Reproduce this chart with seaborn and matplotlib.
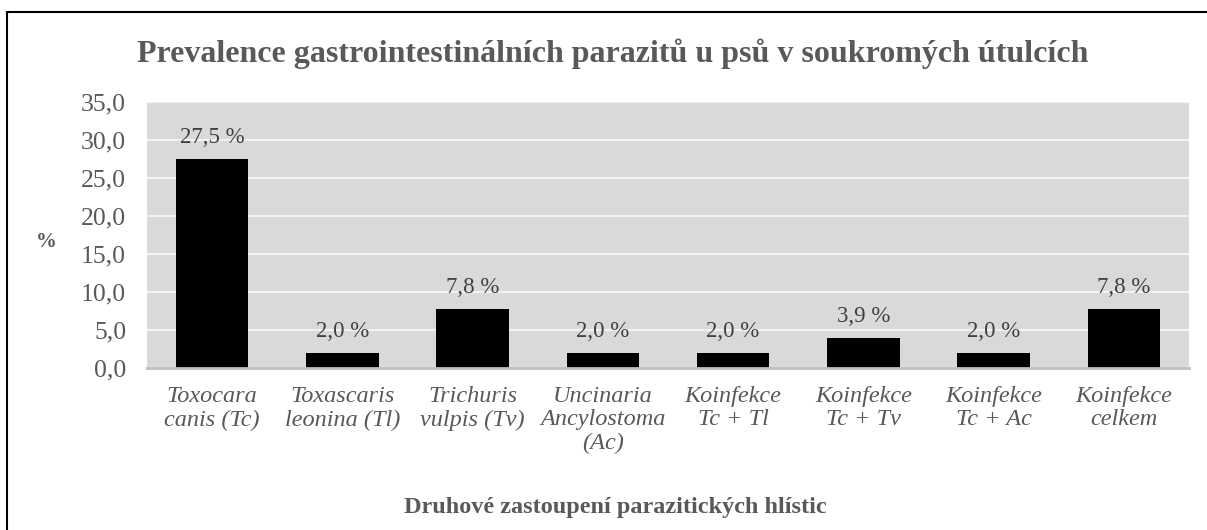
import matplotlib
matplotlib.use("Agg")
import matplotlib.pyplot as plt
from matplotlib.patches import Rectangle
import seaborn as sns
import pandas as pd

categories = [
    "Toxocara\ncanis (Tc)",
    "Toxascaris\nleonina (Tl)",
    "Trichuris\nvulpis (Tv)",
    "Uncinaria\nAncylostoma\n(Ac)",
    "Koinfekce\nTc + Tl",
    "Koinfekce\nTc + Tv",
    "Koinfekce\nTc + Ac",
    "Koinfekce\ncelkem",
]
prevalence = [27.5, 2.0, 7.8, 2.0, 2.0, 3.9, 2.0, 7.8]
y_ticks = [0, 5, 10, 15, 20, 25, 30, 35]

df = pd.DataFrame({"kategorie": categories, "prevalence": prevalence})

sns.set_style("white")
plt.rcParams["font.family"] = ["Liberation Serif", "DejaVu Serif"]

W, H = 1207, 530
fig = plt.figure(figsize=(W / 100, H / 100), dpi=100)
ax = fig.add_axes([147 / W, 1 - 368 / H, (1189 - 147) / W, (368 - 102) / H])
ax.set_facecolor("#D9D9D9")

sns.barplot(data=df, x="kategorie", y="prevalence", color="black",
            saturation=1, width=0.555, linewidth=0, ax=ax, zorder=3)

ax.set_ylim(0, 35)
ax.set_yticks(y_ticks)
ax.set_yticklabels([f"{t:.1f}".replace(".", ",") for t in y_ticks],
                   fontsize=18.5, color="#595959")
ax.yaxis.grid(True, color="#F2F2F2", linewidth=1.5, zorder=0)
ax.set_axisbelow(True)
ax.tick_params(axis="y", length=0, pad=15)
ax.tick_params(axis="x", length=0, pad=13)
for lab in ax.get_xticklabels():
    lab.set_fontstyle("italic")
    lab.set_fontsize(17.5)
    lab.set_color("#595959")
    lab.set_linespacing(1.15)

for s in ["top", "right", "left"]:
    ax.spines[s].set_visible(False)
ax.spines["bottom"].set_color("#BFBFBF")
ax.spines["bottom"].set_linewidth(2)
ax.spines["bottom"].set_zorder(4)

for i, v in enumerate(prevalence):
    ax.annotate(f"{v:.1f} %".replace(".", ","), (i, v), xytext=(0, 15.5),
                textcoords="offset points", ha="center", va="center",
                fontsize=16.5, color="#404040")

ax.set_xlabel("Druhové zastoupení parazitických hlístic", fontsize=17.5,
              fontweight="bold", color="#595959")
ax.xaxis.set_label_coords((615 - 147) / (1189 - 147), -(508 - 368) / (368 - 102))
ax.xaxis.label.set_va("center")
ax.set_ylabel("%", fontsize=15, fontweight="bold", color="#595959",
              rotation=0, va="center", ha="center")
ax.yaxis.set_label_coords((46 - 147) / (1189 - 147), (368 - 242) / (368 - 102))

fig.text(613 / W, 1 - 54 / H,
         "Prevalence gastrointestinálních parazitů u psů v soukromých útulcích",
         ha="center", va="center", fontsize=23, fontweight="bold", color="#595959")

fig.patches.append(Rectangle((7 / W, -0.1), 1.2, 1 - 12 / H + 0.1,
                             transform=fig.transFigure, fill=False,
                             edgecolor="black", linewidth=1.5))

fig.savefig("out.png", dpi=100)
